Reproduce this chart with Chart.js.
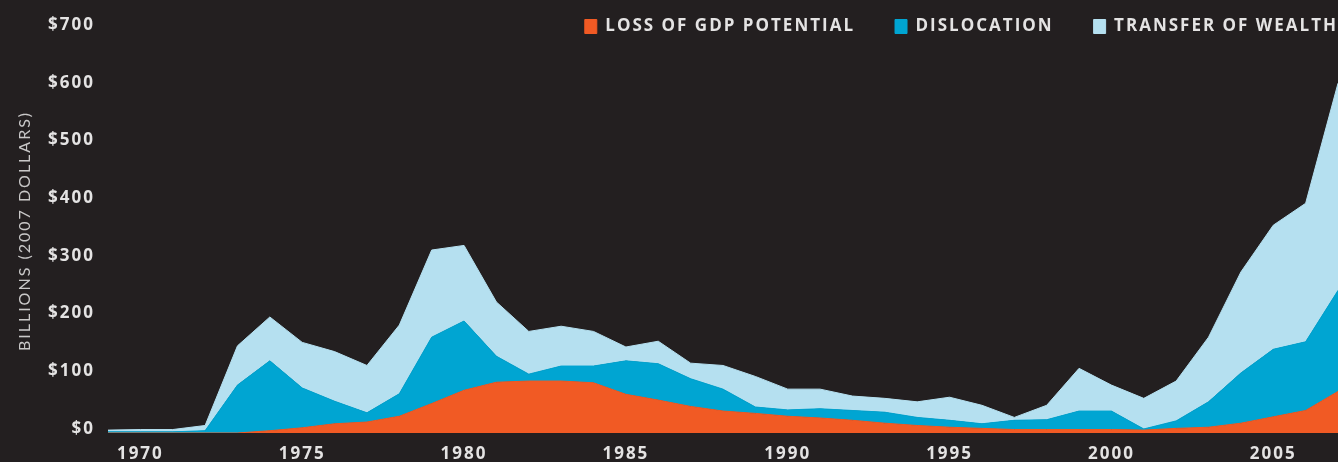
<!DOCTYPE html>
<html>
<head>
<meta charset="utf-8">
<script src="https://cdn.jsdelivr.net/npm/chart.js@4.4.1/dist/chart.umd.min.js"></script>
<style>
  html, body { margin: 0; padding: 0; background: #231f20; }
  #wrap { width: 1338px; height: 462px; position: relative; }
</style>
</head>
<body>
<div id="wrap"><canvas id="oil_chart"></canvas></div>
<script>
// one point per year, values in billions of 2007 dollars
const years = [1969, 1970, 1971, 1972, 1973, 1974, 1975, 1976, 1977, 1978,
  1979, 1980, 1981, 1982, 1983, 1984, 1985, 1986, 1987, 1988,
  1989, 1990, 1991, 1992, 1993, 1994, 1995, 1996, 1997, 1998,
  1999, 2000, 2001, 2002, 2003, 2004, 2005, 2006, 2007];

const lossOfGdp = [0, 0, 0, 0, 0, 4, 9, 16, 19, 29,
  51, 74, 88, 90, 90, 87, 67, 57, 46, 38,
  34, 29, 26, 22, 17, 13, 10, 8, 6, 6,
  6, 6, 5, 8, 10, 17, 28, 39, 72];

const dislocation = [2, 2, 2, 4, 83, 121, 69, 39, 16, 39,
  115, 120, 45, 12, 26, 29, 58, 63, 48, 38,
  11, 11, 16, 17, 19, 14, 12, 8, 16, 17,
  32, 32, 2, 13, 44, 87, 117, 119, 175];

const transferOfWealth = [3, 4, 4, 9, 68, 76, 79, 86, 82, 119,
  151, 131, 94, 74, 69, 60, 24, 39, 27, 41,
  53, 36, 34, 25, 24, 27, 40, 32, 5, 25,
  74, 45, 53, 69, 112, 175, 215, 240, 359];

const seriesNames = ["LOSS OF GDP POTENTIAL", "DISLOCATION", "TRANSFER OF WEALTH"];
const xTickYears = [1970, 1975, 1980, 1985, 1990, 1995, 2000, 2005];
const yTickValues = [0, 100, 200, 300, 400, 500, 600, 700];

const colors = ["#f15a24", "#00a5d2", "#b5e0f0"];
const textColor = "#e4e3e3";

const toPoints = (vals) => vals.map((v, i) => ({ x: years[i], y: v }));

// canvas letter spacing, reset after every resize
const spacing = {
  id: "spacing",
  beforeLayout: (chart) => { chart.ctx.letterSpacing = "2px"; },
  beforeDraw: (chart) => { chart.ctx.letterSpacing = "2px"; },
};

// legend sits over the top band of the plot, flush right
const legendPlace = {
  id: "legendPlace",
  afterLayout: (chart) => {
    const lg = chart.legend;
    lg.left += 40;
    lg.right += 40;
    lg.top = -22;
    lg.height = 75;
    lg.bottom = lg.top + lg.height;
  },
};

const bgFill = {
  id: "bgFill",
  beforeDraw: (chart) => {
    const { ctx } = chart;
    ctx.save();
    ctx.fillStyle = "#231f20";
    ctx.fillRect(0, 0, chart.width, chart.height);
    ctx.restore();
  },
};

const datasets = [lossOfGdp, dislocation, transferOfWealth].map((vals, i) => ({
  label: seriesNames[i],
  data: toPoints(vals),
  backgroundColor: colors[i],
  borderColor: colors[i],
  borderWidth: 1,
  pointRadius: 0,
  tension: 0,
  fill: i === 0 ? "origin" : "-1",
}));

new Chart(document.getElementById("oil_chart"), {
  type: "line",
  data: { datasets },
  options: {
    responsive: true,
    maintainAspectRatio: false,
    animation: false,
    layout: { padding: { left: 0, right: 0, top: 0, bottom: 0 } },
    plugins: {
      tooltip: { enabled: false },
      legend: {
        position: "top",
        align: "end",
        maxHeight: 29,
        labels: {
          color: textColor,
          boxWidth: 12,
          boxHeight: 14,
          padding: 40,
          font: { family: "'Open Sans'", size: 17, weight: "bold" },
        },
      },
    },
    scales: {
      x: {
        type: "linear",
        min: 1969,
        max: 2007,
        grid: { display: false, drawTicks: false },
        border: { display: false },
        afterBuildTicks: (scale) => {
          scale.ticks = xTickYears.map((v) => ({ value: v }));
        },
        afterFit: (scale) => {
          scale.height = 29;
        },
        ticks: {
          color: textColor,
          padding: 11,
          maxRotation: 0,
          autoSkip: false,
          font: { family: "'Open Sans'", size: 17, weight: "bold" },
          callback: (v) => String(v),
        },
      },
      y: {
        stacked: true,
        min: 0,
        max: 700,
        grid: { display: false, drawTicks: false },
        border: { display: false },
        afterBuildTicks: (scale) => {
          scale.ticks = yTickValues.map((v) => ({ value: v }));
        },
        afterFit: (scale) => {
          scale.width = 108;
        },
        title: {
          display: true,
          text: "BILLIONS (2007 DOLLARS)",
          color: "#c9c8c8",
          padding: { top: 15, bottom: 0 },
          font: { family: "Lato", size: 16, weight: "normal" },
        },
        ticks: {
          color: textColor,
          padding: 13,
          labelOffset: -4,
          font: { family: "'Open Sans'", size: 17, weight: "bold" },
          callback: (v) => "$" + v,
        },
      },
    },
  },
  plugins: [bgFill, spacing, legendPlace],
});
</script>
</body>
</html>
